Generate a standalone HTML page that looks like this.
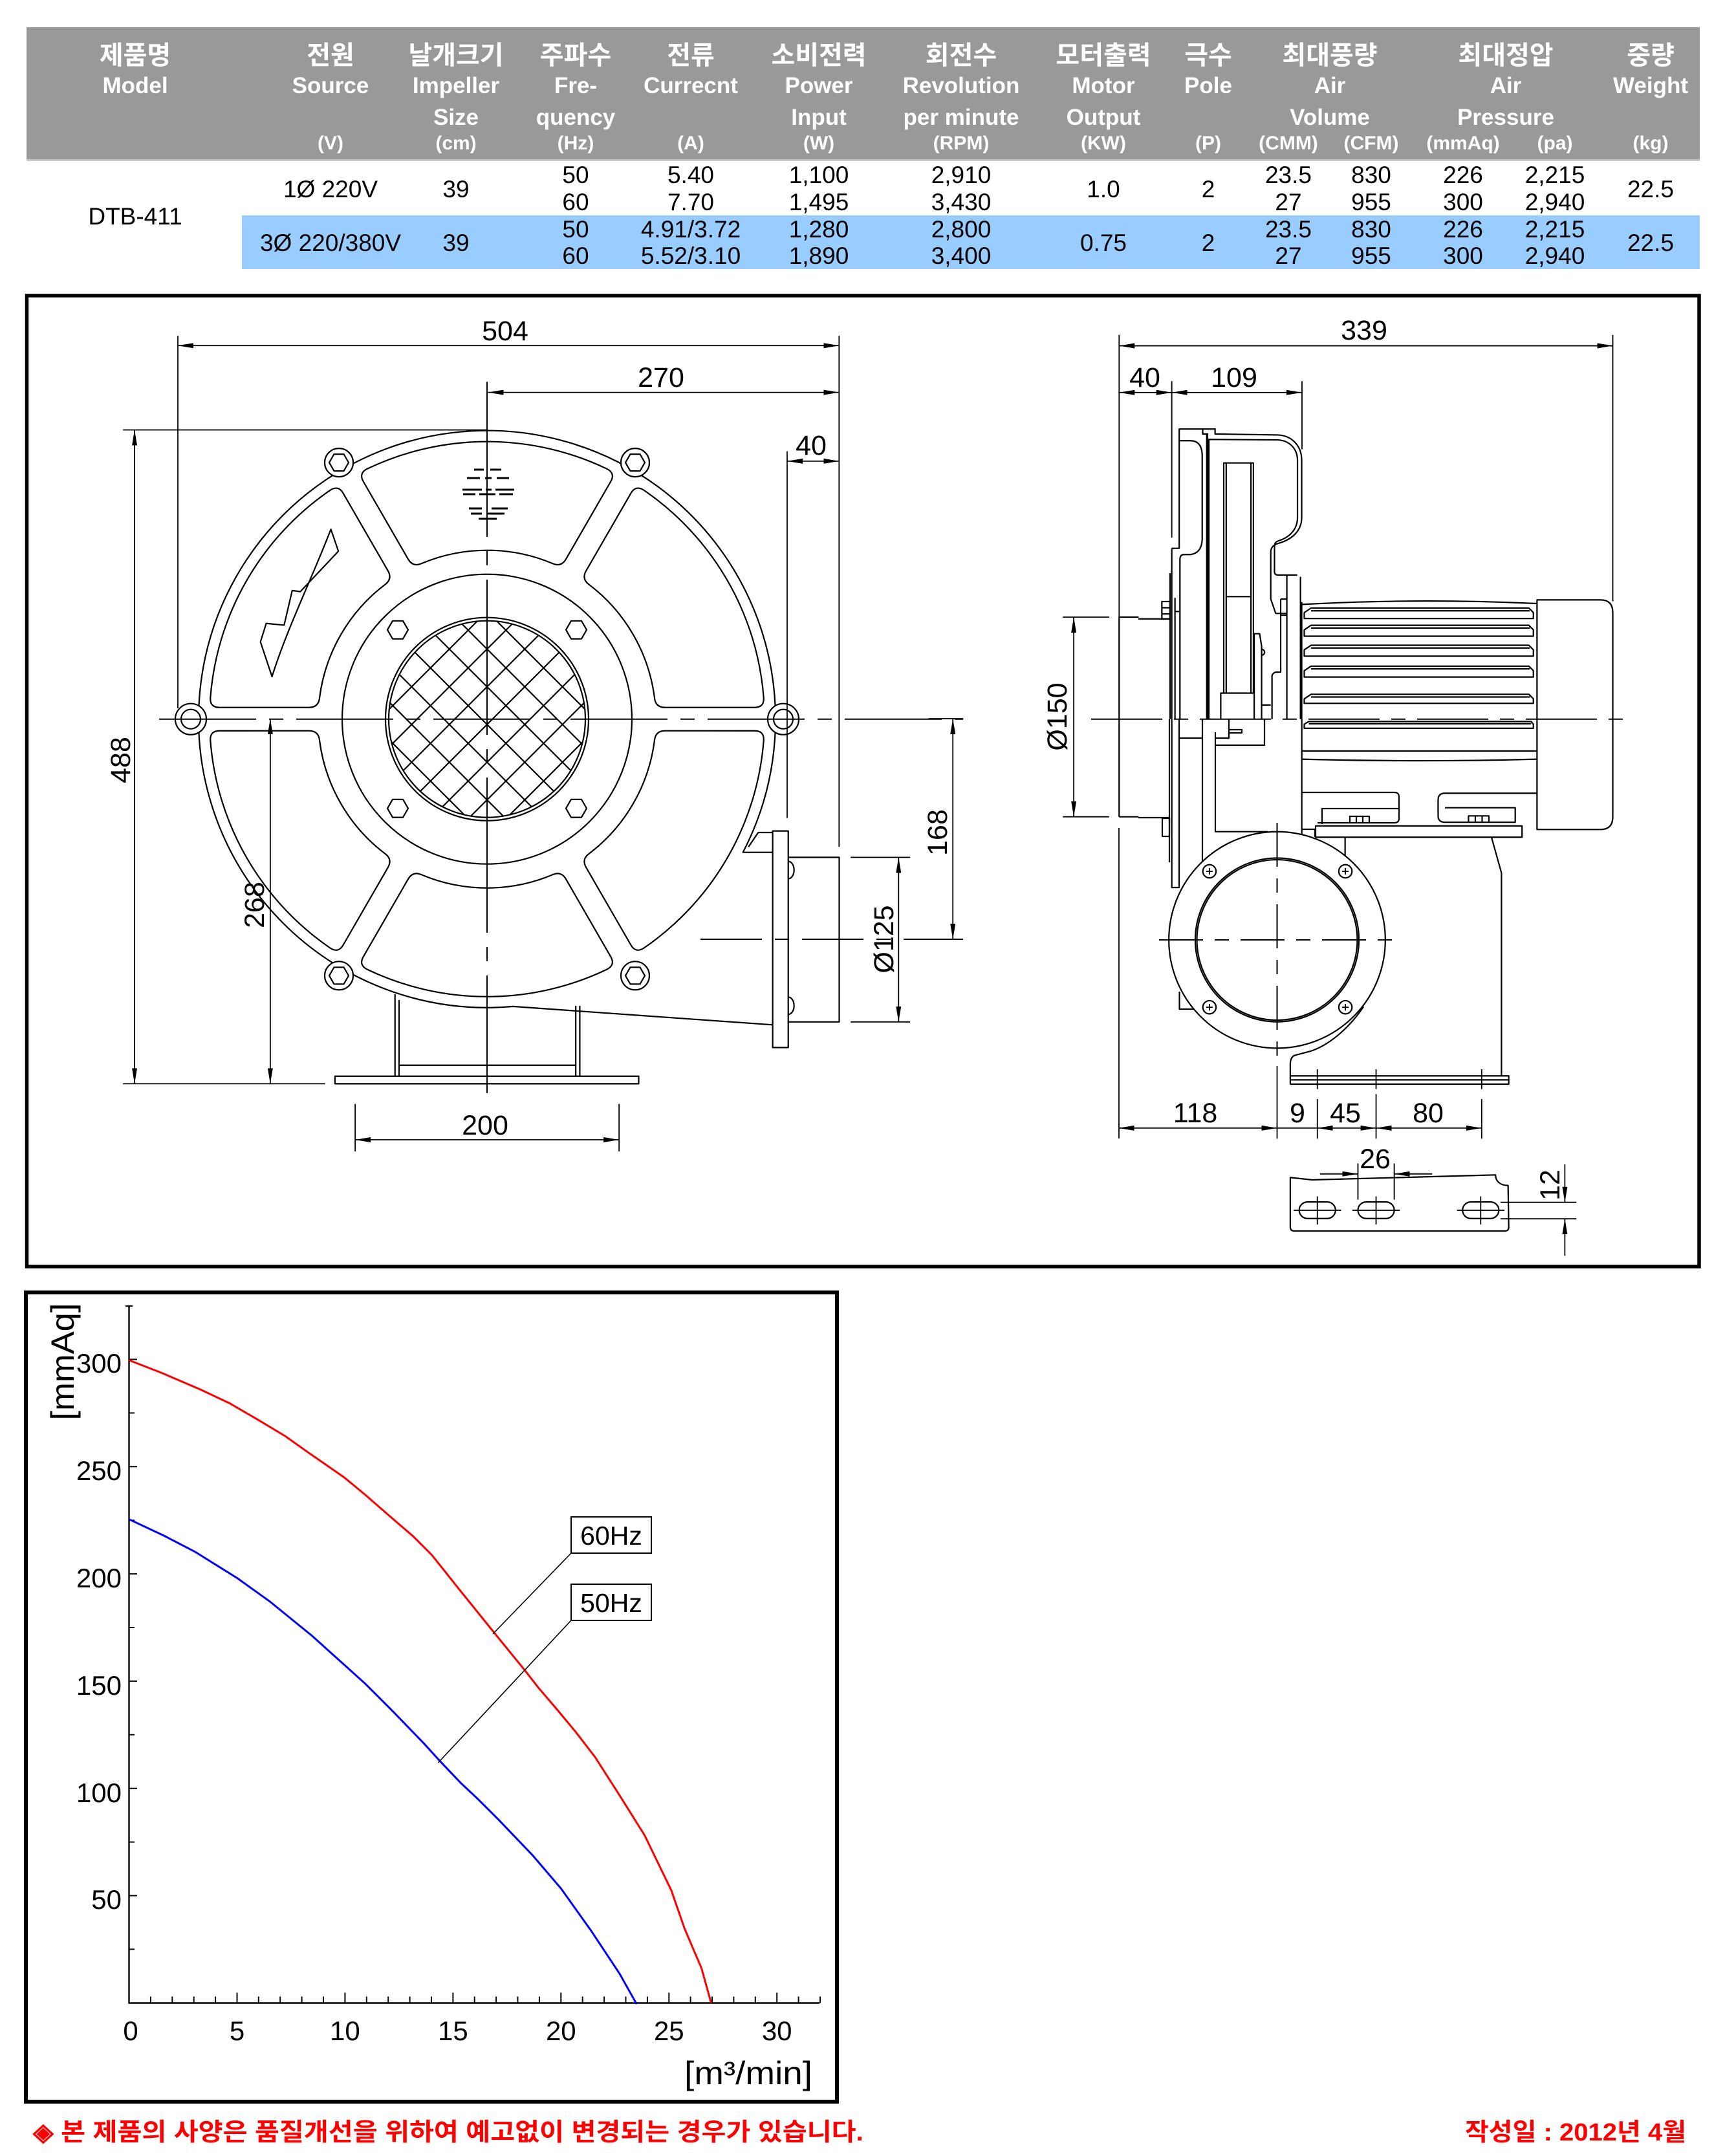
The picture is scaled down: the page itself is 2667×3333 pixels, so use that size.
<!DOCTYPE html>
<html><head><meta charset="utf-8">
<style>
html,body{margin:0;padding:0;background:#fff;}
svg{display:block;}
text{font-family:"Liberation Sans","Noto Sans CJK KR",sans-serif;}
.l{fill:none;stroke:#000;stroke-width:2.2;vector-effect:non-scaling-stroke;stroke-linejoin:round}
.lw{fill:#fff;stroke:#000;stroke-width:2.2;vector-effect:non-scaling-stroke}
.d{fill:none;stroke:#000;stroke-width:1.8;vector-effect:non-scaling-stroke}
.cl{fill:none;stroke:#000;stroke-width:2}
.h{fill:#fff;font-weight:bold;text-anchor:middle}
.v{fill:#000;text-anchor:middle;font-size:37px}
.dt{fill:#000;text-anchor:middle;font-size:43px}
.ax{fill:#000;font-size:42px}
</style></head><body>
<svg width="2667" height="3333" viewBox="0 0 2667 3333" xmlns="http://www.w3.org/2000/svg">
<defs>
<marker id="m0" viewBox="0 0 24 8" refX="24" refY="4" markerWidth="24" markerHeight="8" markerUnits="userSpaceOnUse" orient="auto-start-reverse"><path d="M0,0L24,4L0,8Z"/></marker>
<marker id="m3" viewBox="0 0 24 8" refX="24" refY="4" markerWidth="26.9" markerHeight="9" markerUnits="userSpaceOnUse" orient="auto-start-reverse"><path d="M0,0L24,4L0,8Z"/></marker>
<marker id="m4" viewBox="0 0 24 8" refX="24" refY="4" markerWidth="34.2" markerHeight="11.4" markerUnits="userSpaceOnUse" orient="auto-start-reverse"><path d="M0,0L24,4L0,8Z"/></marker>
<marker id="m5" viewBox="0 0 24 8" refX="24" refY="4" markerWidth="47" markerHeight="15.7" markerUnits="userSpaceOnUse" orient="auto-start-reverse"><path d="M0,0L24,4L0,8Z"/></marker>
<path id="pn" d="M-100.97,-240.7 A261,261 0 0 1 100.97,-240.7 Q114.6,-234.5 122.1,-247.5 L191.2,-367.2 Q198.7,-380.2 185.3,-386.9 A429,429 0 0 0 -185.3,-386.9 Q-198.7,-380.2 -191.2,-367.2 L-122.1,-247.5 Q-114.6,-234.5 -100.97,-240.7 Z"/>
<polygon id="hx" points="16,0 8,13.9 -8,13.9 -16,0 -8,-13.9 8,-13.9"/>
<polygon id="hx2" points="15,0 7.5,13 -7.5,13 -15,0 -7.5,-13 7.5,-13"/>
<clipPath id="gc"><circle cx="0" cy="0" r="152"/></clipPath>
</defs>

<!-- ===== TABLE ===== -->
<rect x="41" y="42" width="2587" height="206" fill="#999999"/>
<rect x="41" y="246" width="2587" height="3" fill="#c8c8c8"/>
<rect x="374" y="333" width="2254" height="83" fill="#99ccff"/>
<g class="h" font-size="40">
<text x="209" y="99">제품명</text><text x="511" y="99">전원</text><text x="705" y="99">날개크기</text><text x="890" y="99">주파수</text><text x="1068" y="99">전류</text><text x="1266" y="99">소비전력</text><text x="1486" y="99">회전수</text><text x="1706" y="99">모터출력</text><text x="1868" y="99">극수</text><text x="2056" y="99">최대풍량</text><text x="2328" y="99">최대정압</text><text x="2552" y="99">중량</text>
</g>
<g class="h" font-size="35">
<text x="209" y="144">Model</text><text x="511" y="144">Source</text><text x="705" y="144">Impeller</text><text x="890" y="144">Fre-</text><text x="1068" y="144">Currecnt</text><text x="1266" y="144">Power</text><text x="1486" y="144">Revolution</text><text x="1706" y="144">Motor</text><text x="1868" y="144">Pole</text><text x="2056" y="144">Air</text><text x="2328" y="144">Air</text><text x="2552" y="144">Weight</text>
<text x="705" y="193">Size</text><text x="890" y="193">quency</text><text x="1266" y="193">Input</text><text x="1486" y="193">per minute</text><text x="1706" y="193">Output</text><text x="2056" y="193">Volume</text><text x="2328" y="193">Pressure</text>
</g>
<g class="h" font-size="30">
<text x="511" y="231">(V)</text><text x="705" y="231">(cm)</text><text x="890" y="231">(Hz)</text><text x="1068" y="231">(A)</text><text x="1266" y="231">(W)</text><text x="1486" y="231">(RPM)</text><text x="1706" y="231">(KW)</text><text x="1868" y="231">(P)</text><text x="1992" y="231">(CMM)</text><text x="2120" y="231">(CFM)</text><text x="2262" y="231">(mmAq)</text><text x="2404" y="231">(pa)</text><text x="2552" y="231">(kg)</text>
</g>
<g class="v">
<text x="209" y="347">DTB-411</text>
<text x="511" y="305">1Ø 220V</text><text x="705" y="305">39</text>
<text x="890" y="283">50</text><text x="890" y="325">60</text>
<text x="1068" y="283">5.40</text><text x="1068" y="325">7.70</text>
<text x="1266" y="283">1,100</text><text x="1266" y="325">1,495</text>
<text x="1486" y="283">2,910</text><text x="1486" y="325">3,430</text>
<text x="1706" y="305">1.0</text><text x="1868" y="305">2</text>
<text x="1992" y="283">23.5</text><text x="1992" y="325">27</text>
<text x="2120" y="283">830</text><text x="2120" y="325">955</text>
<text x="2262" y="283">226</text><text x="2262" y="325">300</text>
<text x="2404" y="283">2,215</text><text x="2404" y="325">2,940</text>
<text x="2552" y="305">22.5</text>
<text x="511" y="388">3Ø 220/380V</text><text x="705" y="388">39</text>
<text x="890" y="367">50</text><text x="890" y="408">60</text>
<text x="1068" y="367">4.91/3.72</text><text x="1068" y="408">5.52/3.10</text>
<text x="1266" y="367">1,280</text><text x="1266" y="408">1,890</text>
<text x="1486" y="367">2,800</text><text x="1486" y="408">3,400</text>
<text x="1706" y="388">0.75</text><text x="1868" y="388">2</text>
<text x="1992" y="367">23.5</text><text x="1992" y="408">27</text>
<text x="2120" y="367">830</text><text x="2120" y="408">955</text>
<text x="2262" y="367">226</text><text x="2262" y="408">300</text>
<text x="2404" y="367">2,215</text><text x="2404" y="408">2,940</text>
<text x="2552" y="388">22.5</text>
</g>

<!-- ===== DRAWING FRAME ===== -->
<rect x="41.5" y="457" width="2585.5" height="1501" fill="none" stroke="#000" stroke-width="5.5"/>

<!-- ===== FRONT VIEW ===== -->
<g transform="translate(753,1111.7)">
  <path class="l" d="M441.6,206 L395.6,206 A446,446 0 1 0 39.9,444.2 L441.6,472.6"/>
  <use href="#pn" class="l"/>
  <use href="#pn" class="l" transform="rotate(60)"/>
  <use href="#pn" class="l" transform="rotate(120)"/>
  <use href="#pn" class="l" transform="rotate(180)"/>
  <use href="#pn" class="l" transform="rotate(240)"/>
  <use href="#pn" class="l" transform="rotate(300)"/>
  <circle class="l" cx="0" cy="0" r="224"/>
  <circle class="l" cx="0" cy="0" r="157"/>
  <circle class="l" cx="0" cy="0" r="152"/>
  <g clip-path="url(#gc)">
    <path class="l" d="M83.4,-250 L-416.6,250 M141.7,-250 L-358.3,250 M200,-250 L-300,250 M258.3,-250 L-241.7,250 M316.6,-250 L-183.4,250 M374.9,-250 L-125.1,250 M433.2,-250 L-66.8,250"/>
    <path class="l" d="M-83.4,-250 L416.6,250 M-141.7,-250 L358.3,250 M-200,-250 L300,250 M-258.3,-250 L241.7,250 M-316.6,-250 L183.4,250 M-374.9,-250 L125.1,250 M-433.2,-250 L66.8,250"/>
  </g>
  <use href="#hx" class="l" x="-138" y="-138"/>
  <use href="#hx" class="l" x="138" y="-138"/>
  <use href="#hx" class="l" x="-138" y="138"/>
  <use href="#hx" class="l" x="138" y="138"/>
  <circle class="lw" cx="458" cy="0" r="24"/><circle class="l" cx="458" cy="0" r="15"/>
  <circle class="lw" cx="-458" cy="0" r="24"/><circle class="l" cx="-458" cy="0" r="15"/>
  <circle class="lw" cx="229" cy="-396.6" r="22"/><use href="#hx2" class="l" x="229" y="-396.6"/>
  <circle class="lw" cx="-229" cy="-396.6" r="22"/><use href="#hx2" class="l" x="-229" y="-396.6"/>
  <circle class="lw" cx="229" cy="396.6" r="22"/><use href="#hx2" class="l" x="229" y="396.6"/>
  <circle class="lw" cx="-229" cy="396.6" r="22"/><use href="#hx2" class="l" x="-229" y="396.6"/>
  <rect class="l" x="441.6" y="172.9" width="24.1" height="334.8"/>
  <path class="l" d="M465.7,213.7 H544.5 V468.1 H465.7"/>
</g>
<!-- emblem -->
<g stroke="#000" stroke-width="3" fill="none">
<path d="M733,726 H748 M758,726 H775"/>
<path d="M722,739 H742 M750,739 H760 M768,739 H787"/>
<path d="M715,757 H745 M751,757 H760 M766,757 H795"/>
<path d="M716,764 H735 M741,764 H766 M772,764 H793"/>
<path d="M725,786 H745 M760,786 H785"/>
<path d="M728,794 H745 M752,794 H780"/>
<path d="M740,802 H768"/>
</g>
<!-- front view zoom3 coords -->
<g transform="translate(150,470) scale(0.892857)">
  <path class="l" d="M405,390 L418,428 L352,498 L338,496 L324,556 L293,553 L283,585 L303,645 C330,560 370,480 405,390 Z"/>
  <path class="l" d="M1128,940 L1145,915 H1170"/>
  <path class="l" d="M1197,965 A10,15 0 0 1 1197,995 M1197,1200 A10,15 0 0 1 1197,1230"/>
  <path class="l" d="M516,1195 V1337 M523,1205 V1337 M829,1215 V1337 M836,1215 V1337 M523,1318 H829"/>
  <path class="l" d="M412,1337 H938 V1350 H412 Z"/>
  <!-- dims -->
  <path class="d" d="M140,72 H1285" marker-start="url(#m3)" marker-end="url(#m3)"/>
  <path class="d" d="M140,55 V700 M1285,55 V940"/>
  <path class="d" d="M677,153 H1285" marker-start="url(#m3)" marker-end="url(#m3)"/>
  <path class="d" d="M1195,272 H1285" marker-start="url(#m3)" marker-end="url(#m3)"/>
  <path class="d" d="M1195,255 V890"/>
  <path class="d" d="M65,218 V1350" marker-start="url(#m3)" marker-end="url(#m3)"/>
  <path class="d" d="M45,218 H677 M45,1350 H395"/>
  <path class="d" d="M300,718 V1350" marker-start="url(#m3)" marker-end="url(#m3)"/>
  <path class="d" d="M447,1447 H904" marker-start="url(#m3)" marker-end="url(#m3)"/>
  <path class="d" d="M447,1385 V1467 M904,1385 V1467"/>
  <path class="d" d="M1482,718 V1100" marker-start="url(#m3)" marker-end="url(#m3)"/>
  <path class="d" d="M1388,958 V1243" marker-start="url(#m3)" marker-end="url(#m3)"/>
  <path class="d" d="M1305,958 H1408 M1305,1243 H1408 M1440,718 H1500"/>
</g>
<!-- front center lines -->
<path class="cl" d="M753,590 V1690" stroke-dasharray="240 22 22 22"/>
<path class="cl" d="M246,1111.7 H1489" stroke-dasharray="150 20 22 20"/>
<path class="cl" d="M1083,1452 H1489" stroke-dasharray="95 20 22 20"/>
<g class="dt">
<text x="781" y="526">504</text>
<text x="1022" y="598">270</text>
<text x="1254" y="703">40</text>
<text x="750" y="1754">200</text>
<text transform="translate(186,1175) rotate(-90)" dy="15">488</text>
<text transform="translate(393,1399) rotate(-90)" dy="15">268</text>
<text transform="translate(1449,1287) rotate(-90)" dy="15">168</text>
<text transform="translate(1366,1452) rotate(-90)" dy="15">Ø125</text>
</g>

<!-- ===== SIDE VIEW ===== -->
<g transform="translate(1550,470) scale(0.701498)">
  <path class="d" d="M257,92 H1345" marker-start="url(#m4)" marker-end="url(#m4)"/>
  <path class="d" d="M257,68 V690 M1345,68 V655 M373,170 V515 M660,170 V320"/>
  <path class="d" d="M257,195 H373" marker-start="url(#m4)" marker-end="url(#m4)"/>
  <path class="d" d="M373,195 H660" marker-start="url(#m4)" marker-end="url(#m4)"/>
  <path class="d" d="M157,690 V1130" marker-start="url(#m4)" marker-end="url(#m4)"/>
  <path class="d" d="M133,690 H235 M133,1130 H235"/>
  <path class="l" d="M257,690 V1130 M257,690 H300 M257,1130 H300"/>
  <!-- motor -->
  <path class="l" d="M1178,652 H1318 Q1345,652 1345,680 V1130 Q1345,1158 1318,1158 H1178 Z"/>
  <path class="l" d="M660,662 Q920,648 1178,660 M660,985 H1178 M660,1003 Q920,1010 1178,1003"/>
  <path class="l" d="M665,693 V680 L680,670 H1160 L1170,680 V693 Z M680,676 H1162"/>
  <path class="l" d="M665,732 V718 L680,708 H1160 L1170,718 V732 Z M680,714 H1162"/>
  <path class="l" d="M665,776 V762 L680,752 H1160 L1170,762 V776 Z M680,758 H1162"/>
  <path class="l" d="M665,822 V808 L680,798 H1160 L1170,808 V822 Z M680,804 H1162"/>
  <path class="l" d="M665,880 V870 L680,860 H1160 L1170,870 V880 Z M680,866 H1162"/>
  <path class="l" d="M665,935 V926 L675,920 H1165 L1170,926 V935 Z M675,925 H1165"/>
  <path class="l" d="M1178,1078 H975 Q960,1078 960,1093 V1128 Q960,1142 975,1142 H1130 V1110 H975"/>
  <path class="l" d="M1027,1142 V1128 H1072 V1142 M1042,1128 V1142 M1057,1128 V1142"/>
  <path class="l" d="M690,1150 H1145 V1175 H690 Z M755,1175 V1215"/>
</g>
<g transform="translate(1760,620) scale(0.38265)">
  <path class="l" d="M135,595 H165 V113 H310 V133 L565,137 C620,140 660,180 660,240 V470 C660,525 620,560 565,575 C545,581 535,592 535,610 V800 L555,858 H600"/>
  <path class="l" d="M285,1285 V155 L565,157 C610,160 643,192 643,240 V470 C643,515 615,550 565,565 C550,570 550,582 550,595 V690 Q550,703 565,703 H642"/>
  <path class="l" d="M168,1285 V640 Q168,620 185,620 H210 Q255,615 258,560 V215 Q255,160 210,160 H168"/>
  <path fill="none" stroke="#000" stroke-width="3.5" vector-effect="non-scaling-stroke" d="M278,130 V1285"/>
  <path class="l" d="M260,113 V133 H278"/>
  <rect class="l" x="345" y="250" width="120" height="930"/>
  <path class="l" d="M355,250 V1180 M455,250 V1180 M355,790 H455"/>
  <path class="l" d="M333,1285 V1180 H345"/>
  <path class="l" d="M468,1285 V940 H490 L498,990 V1285 M498,1003 A12,12 0 0 1 498,1027 M498,1228 H535"/>
  <path class="l" d="M600,705 V1285 M655,710 V1285 M575,800 H600 M575,800 V1095 H555 Q540,1100 540,1112 V1285 M575,865 H600"/>
  <path class="l" d="M135,595 V1285 M128,695 V1285 M148,795 V1285 M148,850 H165"/>
  <path class="l" d="M95,810 H128 V880 H95 Z M95,835 H128 M95,860 H128"/>
  <path class="l" d="M0,880 H128"/>
  <path class="l" d="M660,812 V1285"/>
</g>
<!-- side lower housing (orig coords) -->
<g>
  <path class="l" d="M1808,1112 V1333 M1811.7,1112 V1372 H1823 V1112 M1859,1112 V1333"/>
  <path class="l" d="M1797,1265 H1808 V1293 H1797 Z M1760,1264 H1808"/>
  <path class="l" d="M1879,1132 V1285.7 H1960"/>
  <path class="l" d="M1823,1141 H1859 M1879,1141 H1900 V1112 M1879,1152 H1955 V1112 M1900,1128 H1920 V1133 H1900"/>
  <path class="l" d="M2012.7,1112 V1290"/>
  <path class="l" d="M2013,1225 H2156 Q2163,1225 2163,1232 V1265 Q2163,1272 2156,1272 H2037"/>
  <path class="l" d="M2044,1274 V1250 H2162"/>
  <path class="l" d="M2087,1272 V1262 H2117 V1272 M2097,1262 V1272 M2107,1262 V1272"/>
  <path class="l" d="M2013,1282 H2033 V1294"/>
  <path class="l" d="M2306,1294.4 L2321.4,1349.5 V1663"/>
  <path class="l" d="M1823.5,1533 V1560 H1845.4"/>
  <path class="d" d="M1730,1280 V1760"/>
</g>
<g transform="translate(1700,1250) scale(0.5102)">
  <circle class="lw" cx="538" cy="398" r="328"/>
  <path class="l" d="M800,600 C760,660 700,715 640,735 L590,748 Q578,755 578,775 V810"/>
  <circle class="l" cx="538" cy="398" r="248"/>
  <circle class="l" cx="538" cy="398" r="243"/>
  <circle class="l" cx="333" cy="190" r="20"/><circle class="l" cx="745" cy="190" r="20"/>
  <circle class="l" cx="333" cy="602" r="20"/><circle class="l" cx="745" cy="602" r="20"/>
  <path class="d" d="M323,190 H343 M333,180 V200 M735,190 H755 M745,180 V200 M323,602 H343 M333,592 V612 M735,602 H755 M745,592 V612"/>
  <path class="l" d="M578,810 H1240 V835 H578 Z M578,822 H1240"/>
  <path class="d" d="M58,968 H538" marker-start="url(#m5)" marker-end="url(#m5)"/>
  <path class="d" d="M538,968 H660"/>
  <path class="d" d="M660,968 H838" marker-start="url(#m5)" marker-end="url(#m5)"/>
  <path class="d" d="M838,968 H1158" marker-start="url(#m5)" marker-end="url(#m5)"/>
  <path class="d" d="M538,780 V1000 M660,790 V850 M660,880 V1000 M838,790 V850 M838,865 V1000 M1158,790 V850 M1158,880 V1000"/>
  <!-- foot detail -->
  <path class="l" d="M578,1118 L645,1125 L1200,1110 C1200,1130 1215,1142 1238,1142 L1240,1268 Q1240,1280 1228,1280 L590,1280 Q578,1280 578,1268 Z"/>
  <rect class="l" x="605" y="1192" width="110" height="50" rx="25"/>
  <rect class="l" x="783" y="1192" width="110" height="50" rx="25"/>
  <rect class="l" x="1100" y="1192" width="110" height="50" rx="25"/>
  <path class="d" d="M588,1217 H732 M660,1175 V1260 M766,1217 H910 M838,1175 V1260 M1083,1217 H1227 M1155,1175 V1260"/>
  <path class="d" d="M783,1075 V1185 M893,1075 V1185"/>
  <path class="d" d="M668,1107 H783" marker-end="url(#m5)"/>
  <path class="d" d="M1008,1107 H893" marker-end="url(#m5)"/>
  <path class="d" d="M1215,1193 H1445 M1215,1243 H1445"/>
  <path class="d" d="M1410,1078 V1193" marker-end="url(#m5)"/>
  <path class="d" d="M1410,1355 V1243" marker-end="url(#m5)"/>
</g>
<!-- side center lines -->
<path class="cl" d="M1687,1111.7 H2525" stroke-dasharray="110 18 22 18"/>
<path class="cl" d="M1974.5,1272 V1636" stroke-dasharray="68 18 22 18"/>
<path class="cl" d="M1792,1453 H2158" stroke-dasharray="68 18 22 18"/>
<g class="dt">
<text x="2109" y="525">339</text>
<text x="1770" y="598">40</text>
<text x="1908" y="598">109</text>
<text transform="translate(1634,1108) rotate(-90)" dy="15">Ø150</text>
<text x="1848" y="1735">118</text>
<text x="2006" y="1735">9</text>
<text x="2080" y="1735">45</text>
<text x="2208" y="1735">80</text>
<text x="2126" y="1806">26</text>
<text transform="translate(2396,1832) rotate(-90)" dy="15">12</text>
</g>

<!-- ===== CHART ===== -->
<rect x="40" y="1998" width="1254" height="1251" fill="none" stroke="#000" stroke-width="6"/>
<path fill="none" stroke="#000" stroke-width="2.4" d="M199.5,2019 V3096.5 H1267"/>
<path fill="none" stroke="#000" stroke-width="2" d="M199.5,2101.5 H212 M199.5,2267.3 H212 M199.5,2433.1 H212 M199.5,2598.9 H212 M199.5,2764.7 H212 M199.5,2930.5 H212 M199.5,2184.4 H208 M199.5,2350.2 H208 M199.5,2516 H208 M199.5,2681.8 H208 M199.5,2847.6 H208 M199.5,3013.4 H208 M194,2019 H205"/>
<path fill="none" stroke="#000" stroke-width="2" d="M232.9,3096.5 v-10 M266.3,3096.5 v-10 M299.7,3096.5 v-10 M333.1,3096.5 v-10 M366.5,3096.5 v-16 M399.8,3096.5 v-10 M433.2,3096.5 v-10 M466.6,3096.5 v-10 M500,3096.5 v-10 M533.4,3096.5 v-16 M566.8,3096.5 v-10 M600.2,3096.5 v-10 M633.6,3096.5 v-10 M667,3096.5 v-10 M700.4,3096.5 v-16 M733.7,3096.5 v-10 M767.1,3096.5 v-10 M800.5,3096.5 v-10 M833.9,3096.5 v-10 M867.3,3096.5 v-16 M900.7,3096.5 v-10 M934.1,3096.5 v-10 M967.5,3096.5 v-10 M1000.9,3096.5 v-10 M1034.3,3096.5 v-16 M1067.6,3096.5 v-10 M1101,3096.5 v-10 M1134.4,3096.5 v-10 M1167.8,3096.5 v-10 M1201.2,3096.5 v-16 M1234.6,3096.5 v-10 M1268,3096.5 v-10"/>
<g class="ax" text-anchor="end">
<text x="188" y="2122">300</text><text x="188" y="2288">250</text><text x="188" y="2454">200</text><text x="188" y="2620">150</text><text x="188" y="2786">100</text><text x="188" y="2951">50</text>
</g>
<g class="ax" text-anchor="middle">
<text x="202" y="3154">0</text><text x="366.5" y="3154">5</text><text x="533.4" y="3154">10</text><text x="700.4" y="3154">15</text><text x="867.3" y="3154">20</text><text x="1034.3" y="3154">25</text><text x="1201.2" y="3154">30</text>
</g>
<text transform="translate(114,2105) rotate(-90)" text-anchor="middle" font-size="50" textLength="181" lengthAdjust="spacingAndGlyphs">[mmAq]</text>
<text x="1058" y="3222" font-size="50" textLength="198" lengthAdjust="spacingAndGlyphs">[m³/min]</text>
<g transform="translate(30,1990) scale(0.822704)">
  <polyline fill="none" stroke="#ff0000" stroke-width="3" vector-effect="non-scaling-stroke" points="206,137 270,162 340,192 395,218 445,247 500,280 545,312 610,357 650,390 690,425 740,468 775,503 830,572 893,650 950,720 975,752 1010,793 1045,835 1082,883 1130,958 1175,1030 1225,1133 1250,1205 1282,1280 1300,1345"/>
  <polyline fill="none" stroke="#0000ff" stroke-width="3" vector-effect="non-scaling-stroke" points="206,436 270,466 330,497 410,547 470,590 550,655 600,700 650,745 700,795 760,857 790,890 830,932 862,962 900,1000 965,1068 1018,1130 1075,1210 1128,1290 1160,1347"/>
</g>
<rect x="883" y="2345" width="124" height="56" fill="#fff" stroke="#000" stroke-width="2"/>
<rect x="883" y="2449" width="124" height="56" fill="#fff" stroke="#000" stroke-width="2"/>
<path fill="none" stroke="#000" stroke-width="1.6" d="M883,2401 L762,2526 M883,2505 L677.5,2725"/>
<text x="945" y="2388" font-size="41" text-anchor="middle">60Hz</text>
<text x="945" y="2492" font-size="41" text-anchor="middle">50Hz</text>

<!-- ===== FOOTER ===== -->
<text x="51" y="3309" font-size="38" font-weight="bold" fill="#ff0000" textLength="1284" lengthAdjust="spacingAndGlyphs">◈ 본 제품의 사양은 품질개선을 위하여 예고없이 변경되는 경우가 있습니다.</text>
<text x="2265" y="3309" font-size="38" font-weight="bold" fill="#ff0000" textLength="342" lengthAdjust="spacingAndGlyphs">작성일 : 2012년 4월</text>
</svg>
</body></html>
